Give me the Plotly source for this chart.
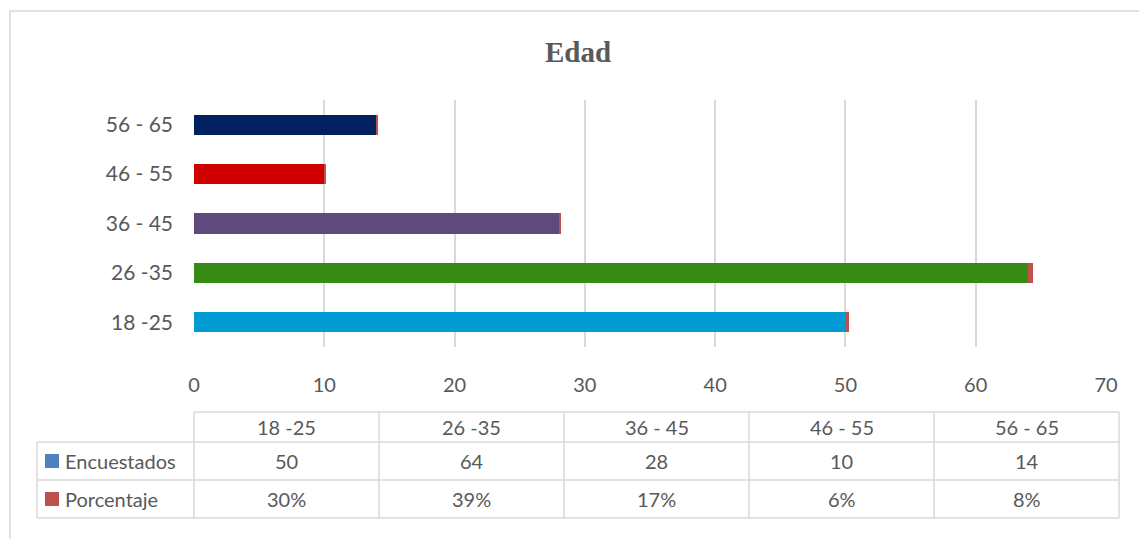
import plotly.graph_objects as go

# ── data ──────────────────────────────────────────────────────────────────────
categories   = ["18 -25", "26 -35", "36 - 45", "46 - 55", "56 - 65"]
encuestados  = [50, 64, 28, 10, 14]
porcentaje   = [0.30, 0.39, 0.17, 0.06, 0.08]
bar_colors   = ["#009BD2", "#378A14", "#604A7B", "#D00000", "#002060"]
x_ticks      = [0, 10, 20, 30, 40, 50, 60, 70]

W, H = 1139, 539
L, R, T, B = 194, 1106, 100, 347          # plot area in pixels

GRID = "#D9D9D9"
TXT = "#595959"
FONT = "Lato"
FS = 20


def px(x):
    return (x - L) / (R - L)


def py(y):
    return (B - y) / (B - T)


fig = go.Figure()

fig.add_trace(go.Bar(
    y=categories, x=encuestados, orientation="h",
    name="Encuestados", marker=dict(color=bar_colors, line_width=0),
    width=0.41, showlegend=False,
))
fig.add_trace(go.Bar(
    y=categories, x=porcentaje, orientation="h",
    name="Porcentaje", marker=dict(color="#C0504D", line_width=0),
    width=0.41, showlegend=False,
))

# ── data table under the chart ───────────────────────────────────────────────
shapes = []
annos = []
col_w = 185
n = len(categories)
tbl_r = L + n * col_w
rows_y = [412, 442, 480, 518]
leg_l = 37

line = dict(color=GRID, width=1.5)
shapes.append(dict(type="line", xref="paper", yref="paper",
                   x0=px(L), x1=px(tbl_r), y0=py(rows_y[0]), y1=py(rows_y[0]), line=line))
for yy in rows_y[1:]:
    shapes.append(dict(type="line", xref="paper", yref="paper",
                       x0=px(leg_l), x1=px(tbl_r), y0=py(yy), y1=py(yy), line=line))
shapes.append(dict(type="line", xref="paper", yref="paper",
                   x0=px(leg_l), x1=px(leg_l), y0=py(rows_y[1]), y1=py(rows_y[3]), line=line))
for i in range(n + 1):
    xx = L + i * col_w
    shapes.append(dict(type="line", xref="paper", yref="paper",
                       x0=px(xx), x1=px(xx), y0=py(rows_y[0]), y1=py(rows_y[3]), line=line))

row_mid = [(rows_y[i] + rows_y[i + 1]) / 2 for i in range(3)]
tfont = dict(family=FONT, size=FS, color=TXT)
for i, cat in enumerate(categories):
    cx = px(L + col_w * (i + 0.5))
    annos.append(dict(x=cx, y=py(row_mid[0]), text=cat))
    annos.append(dict(x=cx, y=py(row_mid[1]), text=str(encuestados[i])))
    annos.append(dict(x=cx, y=py(row_mid[2]), text=f"{round(porcentaje[i] * 100)}%"))

# legend keys in the table
for name, color, ym in [("Encuestados", "#4F81BD", row_mid[1]),
                        ("Porcentaje", "#C0504D", row_mid[2])]:
    shapes.append(dict(type="rect", xref="paper", yref="paper",
                       x0=px(45), x1=px(59), y0=py(ym + 7), y1=py(ym - 7),
                       fillcolor=color, line_width=0))
    annos.append(dict(x=px(63), y=py(ym), text=name, xanchor="left"))

for a in annos:
    a.update(xref="paper", yref="paper", showarrow=False, font=tfont,
             yanchor="middle")
    a.setdefault("xanchor", "center")

# chart border
shapes.append(dict(type="rect", xref="paper", yref="paper",
                   x0=px(10), x1=px(1160), y0=py(11), y1=py(560),
                   line=dict(color="#D9D9D9", width=1.5), layer="below"))

fig.update_layout(
    width=W, height=H,
    margin=dict(l=L, r=W - R, t=T, b=H - B),
    paper_bgcolor="white", plot_bgcolor="white",
    barmode="stack",
    bargap=0.59,
    title=dict(text="<b>Edad</b>", x=578 / W, xanchor="center",
               y=1 - 52 / H, yanchor="middle",
               font=dict(family="Liberation Serif", size=29, color=TXT)),
    shapes=shapes,
    annotations=annos,
    showlegend=False,
)
fig.update_xaxes(range=[0, 70], tickvals=x_ticks, showgrid=True, gridcolor=GRID,
                 gridwidth=1.5, zeroline=False, showline=False,
                 tickfont=dict(family=FONT, size=FS, color=TXT),
                 ticklabelstandoff=24)
fig.update_yaxes(categoryorder="array", categoryarray=categories,
                 range=[-0.5, 4.5], showgrid=False, zeroline=False,
                 showline=False, ticks="",
                 tickfont=dict(family=FONT, size=FS + 1, color=TXT),
                 ticklabelstandoff=20)

fig.write_html("out.html", config={"displayModeBar": False},
               post_script="document.body.style.margin='0px';")
